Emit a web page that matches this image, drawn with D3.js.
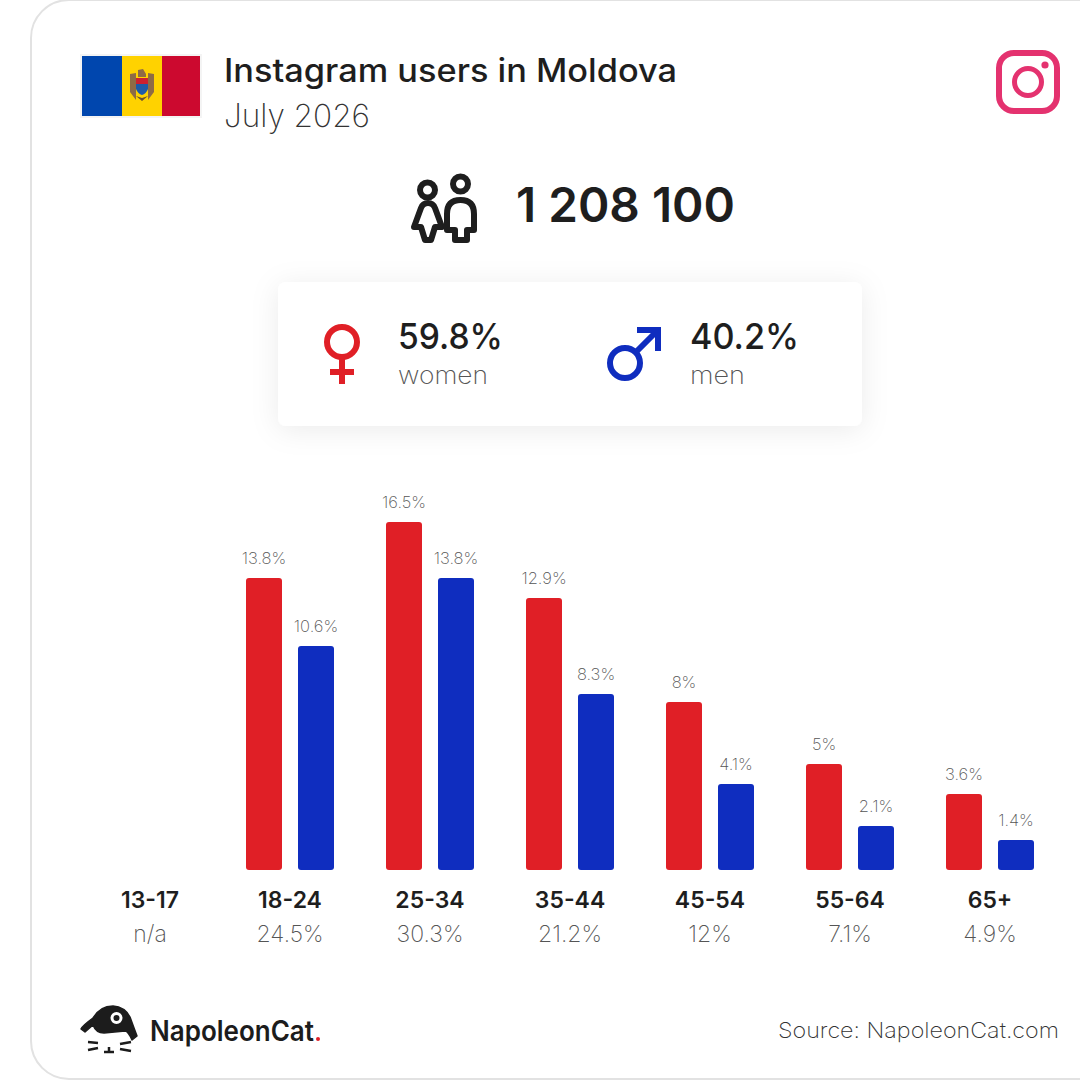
<!DOCTYPE html>
<html>
<head>
<meta charset="utf-8">
<script src="https://cdn.jsdelivr.net/npm/d3@7"></script>
<style>
  html, body { margin: 0; padding: 0; background: #fff; }
  svg { display: block; }
  text { font-family: Inter, "Open Sans", sans-serif; }
</style>
</head>
<body>
<div class="chart"></div>
<script>
const ages = ["13-17", "18-24", "25-34", "35-44", "45-54", "55-64", "65+"];
const ageShares = ["n/a", "24.5%", "30.3%", "21.2%", "12%", "7.1%", "4.9%"];
const women = [null, 13.8, 16.5, 12.9, 8, 5, 3.6];
const men = [null, 10.6, 13.8, 8.3, 4.1, 2.1, 1.4];
const genders = ["women", "men"];
const genderColors = ["#e01f26", "#0f2dbf"];
const genderShares = ["59.8%", "40.2%"];

const dark = "#1e1e1e";
const grey = "#6e6e6e";

const width = 1080;
const height = 1080;
const svg = d3
  .select(".chart")
  .append("svg")
  .attr("width", width)
  .attr("height", height);

// drop shadow of the gender card
const shadow = svg.append("defs").append("filter")
  .attr("id", "shadow")
  .attr("x", "-20%").attr("y", "-40%")
  .attr("width", "140%").attr("height", "180%");
shadow.append("feDropShadow")
  .attr("dx", 0).attr("dy", 4)
  .attr("stdDeviation", 14)
  .attr("flood-color", "#000")
  .attr("flood-opacity", 0.08);

// outer frame runs off the right edge
svg.append("rect")
  .attr("x", 31).attr("y", 0)
  .attr("width", 1100).attr("height", 1079)
  .attr("rx", 38)
  .attr("fill", "#fff")
  .attr("stroke", "#e2e2e2")
  .attr("stroke-width", 2);

function label(x, y, text, size, weight, fill, fitWidth, anchor) {
  const t = svg.append("text")
    .attr("x", x).attr("y", y)
    .attr("font-size", size)
    .attr("font-weight", weight)
    .attr("fill", fill)
    .attr("text-anchor", anchor || "start")
    .text(text);
  if (fitWidth) {
    t.attr("textLength", fitWidth).attr("lengthAdjust", "spacingAndGlyphs");
  }
  return t;
}

// flag
svg.append("rect").attr("x", 80).attr("y", 54).attr("width", 122).attr("height", 64).attr("fill", "#f4f4f4");
svg.append("rect").attr("x", 82).attr("y", 56).attr("width", 40).attr("height", 60).attr("fill", "#0046ae");
svg.append("rect").attr("x", 122).attr("y", 56).attr("width", 40).attr("height", 60).attr("fill", "#ffd200");
svg.append("rect").attr("x", 162).attr("y", 56).attr("width", 38).attr("height", 60).attr("fill", "#cc092f");
const arms = svg.append("g");
arms.append("path").attr("d", "M130,74 L136,73 L136,100 L130,92Z M148,73 L154,74 L154,92 L148,100Z").attr("fill", "#8f6b45");
arms.append("path").attr("d", "M138,70 L143,69 L146,74 L146,77 L138,77Z").attr("fill", "#8f6b45");
arms.append("path").attr("d", "M136,78 H148 V84 H136Z").attr("fill", "#cc2030");
arms.append("path").attr("d", "M136,84 H148 V89 Q146,94 142,95 Q138,94 136,89Z").attr("fill", "#1f5aa8");
arms.append("path").attr("d", "M136,96 L142,101 L148,96 L142,98Z").attr("fill", "#6b5130");

label(224, 82, "Instagram users in Moldova", 32, 500, dark, 453);
label(224, 127, "July 2026", 32, 200, "#333", 146);

// instagram logo
const pink = "#e4326f";
svg.append("rect").attr("x", 999).attr("y", 53).attr("width", 58).attr("height", 58).attr("rx", 15)
  .attr("fill", "none").attr("stroke", pink).attr("stroke-width", 6);
svg.append("circle").attr("cx", 1028).attr("cy", 82).attr("r", 13.5)
  .attr("fill", "none").attr("stroke", pink).attr("stroke-width", 5);
svg.append("circle").attr("cx", 1045).attr("cy", 65).attr("r", 3.6).attr("fill", pink);

// people icon
const people = svg.append("g").attr("fill", "none").attr("stroke", dark)
  .attr("stroke-width", 6).attr("stroke-linejoin", "round").attr("stroke-linecap", "round");
people.append("circle").attr("cx", 427.5).attr("cy", 190).attr("r", 7.5);
people.append("path").attr("d", "M428,203 Q433,203 435,208 L442,227 L435,227 L431,240 H425 L421,227 L414,227 L421,208 Q423,203 428,203Z");
people.append("circle").attr("cx", 460.5).attr("cy", 184).attr("r", 7.5);
people.append("path").attr("d", "M447,230 V214 Q447,200 460.5,200 Q474,200 474,214 V230 H467 V240 H455 V230Z");

label(516, 222, "1 208 100", 48, 600, dark, 219);

// gender card
svg.append("rect")
  .attr("x", 278).attr("y", 282)
  .attr("width", 584).attr("height", 144)
  .attr("rx", 8)
  .attr("fill", "#fff")
  .attr("filter", "url(#shadow)");

const red = genderColors[0];
const blue = genderColors[1];
svg.append("circle").attr("cx", 342).attr("cy", 342).attr("r", 15)
  .attr("fill", "none").attr("stroke", red).attr("stroke-width", 6);
svg.append("path").attr("d", "M342,358 V384 M330,372 H354").attr("fill", "none").attr("stroke", red).attr("stroke-width", 6);
svg.append("circle").attr("cx", 625).attr("cy", 363).attr("r", 15)
  .attr("fill", "none").attr("stroke", blue).attr("stroke-width", 6);
svg.append("path").attr("d", "M636,352 L658,330 M637,330 H658 V351").attr("fill", "none").attr("stroke", blue).attr("stroke-width", 6);

label(398, 349, genderShares[0], 36, 500, dark, 105);
label(398, 384, genders[0], 24, 200, "#555", 90);
label(690, 349, genderShares[1], 36, 500, dark, 109);
label(690, 384, genders[1], 24, 200, "#555", 55);

// bars, the source snaps bar heights to 2px steps
const x = d3.scaleBand().domain(ages).range([80, 1060]);
const xGender = d3.scaleBand().domain(genders).range([-44, 44]).paddingInner(16 / 52);
const barHeight = d3.scaleLinear().domain([0, 16.5]).range([0, 348.15]);
const snapped = (v) => 2 * Math.round(barHeight(v) / 2);
const baseline = 870;

const rows = ages.map((age, i) => ({ age, women: women[i], men: men[i] }));
const groups = svg.selectAll("g.age")
  .data(rows)
  .enter()
  .append("g")
  .attr("class", "age")
  .attr("transform", (d) => `translate(${x(d.age) + x.bandwidth() / 2},0)`);

const cells = groups.selectAll("g.cell")
  .data((d) => genders.map((g, i) => ({ gender: g, value: d[g], color: genderColors[i] })).filter((c) => c.value !== null))
  .enter()
  .append("g")
  .attr("class", "cell");

cells.append("rect")
  .attr("x", (d) => xGender(d.gender))
  .attr("y", (d) => baseline - snapped(d.value))
  .attr("width", xGender.bandwidth())
  .attr("height", (d) => snapped(d.value))
  .attr("rx", 3)
  .attr("fill", (d) => d.color);

cells.append("text")
  .attr("x", (d) => xGender(d.gender) + xGender.bandwidth() / 2)
  .attr("y", (d) => baseline - snapped(d.value) - 14)
  .attr("text-anchor", "middle")
  .attr("font-size", 16.5)
  .attr("font-weight", 200)
  .attr("fill", "#555")
  .text((d) => d.value + "%");

// age axis with the share of each age group underneath
const axis = svg.append("g")
  .attr("transform", `translate(0,${baseline})`)
  .call(d3.axisBottom(x).tickSize(0).tickPadding(22));
axis.select(".domain").remove();
axis.selectAll(".tick text")
  .attr("font-family", "Inter, sans-serif")
  .attr("font-size", 23)
  .attr("font-weight", 600)
  .attr("fill", dark);
axis.selectAll(".tick")
  .append("text")
  .attr("y", 72)
  .attr("text-anchor", "middle")
  .attr("font-family", "Inter, sans-serif")
  .attr("font-size", 23)
  .attr("font-weight", 200)
  .attr("fill", "#555")
  .text((d, i) => ageShares[i]);

// napoleoncat logo
svg.append("path")
  .attr("d", "M81,1029 Q82,1026 93,1018 Q100,1006 113,1006 Q125,1007 130,1017 Q134,1028 137,1036 L132,1040 Q128,1031 125,1031 L104,1033 Q96,1033 93,1025 L85,1032Z")
  .attr("fill", "#1c1c1c")
  .attr("stroke", "#1c1c1c")
  .attr("stroke-width", 1.5)
  .attr("stroke-linejoin", "round");
svg.append("circle").attr("cx", 116.5).attr("cy", 1018).attr("r", 4.5)
  .attr("fill", "#1c1c1c").attr("stroke", "#fff").attr("stroke-width", 3);
svg.append("path")
  .attr("d", "M88,1042 L98,1043 M88,1050 L98,1048 M131,1042 L120,1044 M131,1051 L120,1049 M109,1047 V1052 M104,1052 H114")
  .attr("fill", "none").attr("stroke", "#1c1c1c").attr("stroke-width", 2.5);

label(150, 1041, "NapoleonCat", 28, 600, "#1c1c1c", 164);
svg.append("circle").attr("cx", 318).attr("cy", 1039).attr("r", 2).attr("fill", "#e01f26");

label(778, 1038, "Source: NapoleonCat.com", 22, 200, "#333", 281);
</script>
</body>
</html>
